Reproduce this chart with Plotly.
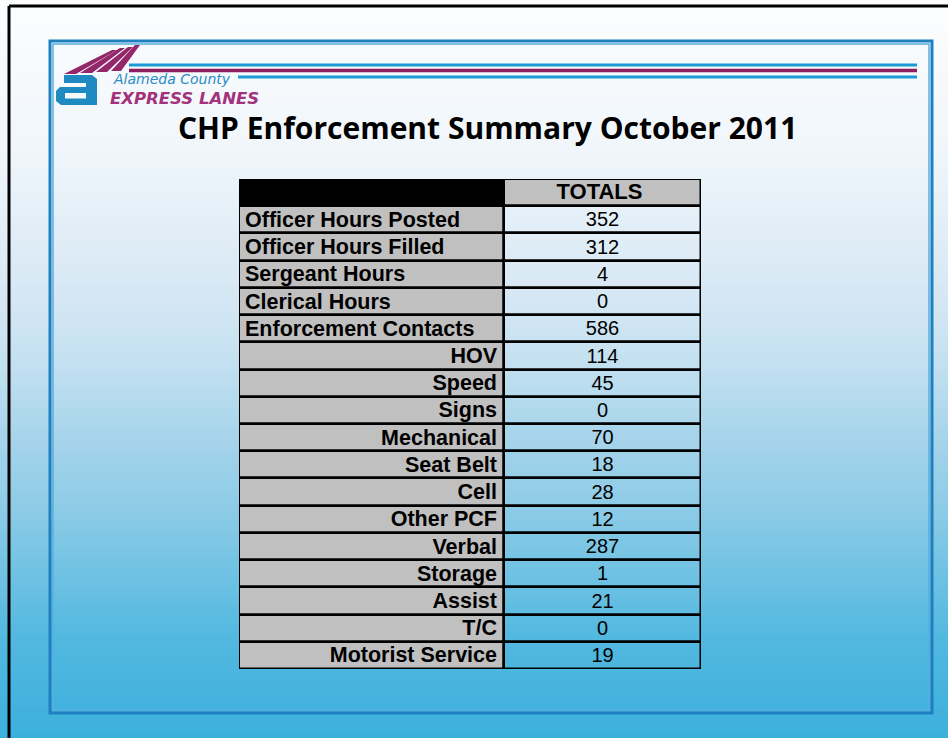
import plotly.graph_objects as go

W, H = 948, 738

title_text = "CHP Enforcement Summary October 2011"
header_labels = ["", "TOTALS"]
row_labels = ["Officer Hours Posted", "Officer Hours Filled", "Sergeant Hours",
              "Clerical Hours", "Enforcement Contacts", "HOV", "Speed", "Signs",
              "Mechanical", "Seat Belt", "Cell", "Other PCF", "Verbal", "Storage",
              "Assist", "T/C", "Motorist Service"]
totals = [352, 312, 4, 0, 586, 114, 45, 0, 70, 18, 28, 12, 287, 1, 21, 0, 19]
is_subcategory = [False] * 5 + [True] * 12


def px(x):
    return x / W


def py(y):
    return 1 - y / H


shapes = []

# slide background gradient (white -> blue)
stops = [(0, (252, 253, 254)), (150, (240, 246, 251)), (300, (213, 231, 244)),
         (360, (196, 225, 241)), (450, (162, 210, 234)), (510, (140, 203, 230)),
         (640, (82, 184, 224)), (738, (60, 176, 220))]


def grad(y):
    for (y0, c0), (y1, c1) in zip(stops[:-1], stops[1:]):
        if y0 <= y <= y1:
            t = (y - y0) / (y1 - y0)
            return "rgb(%d,%d,%d)" % tuple(round(a + (b - a) * t) for a, b in zip(c0, c1))
    return "rgb(60,176,220)"


step = 3
for y in range(0, H, step):
    shapes.append(dict(type="rect", xref="paper", yref="paper", layer="below",
                       x0=0, x1=1, y0=py(y + step + 0.5), y1=py(y),
                       fillcolor=grad(y + step / 2), line=dict(width=0)))

# outer black slide border (left & top)
shapes.append(dict(type="line", xref="paper", yref="paper", x0=px(9), x1=px(9),
                   y0=py(6), y1=py(740), line=dict(color="black", width=3)))
shapes.append(dict(type="line", xref="paper", yref="paper", x0=px(9), x1=px(950),
                   y0=py(6), y1=py(6), line=dict(color="black", width=3)))

# inner double frame
shapes.append(dict(type="rect", xref="paper", yref="paper", x0=px(50), x1=px(932),
                   y0=py(713), y1=py(41), line=dict(color="#1f80bf", width=3)))
shapes.append(dict(type="rect", xref="paper", yref="paper", x0=px(53), x1=px(929),
                   y0=py(710), y1=py(44), line=dict(color="#5aaee0", width=1.5)))

# header rule lines
shapes.append(dict(type="line", xref="paper", yref="paper", x0=px(129), x1=px(917),
                   y0=py(65), y1=py(65), line=dict(color="#1b9bd6", width=3)))
shapes.append(dict(type="line", xref="paper", yref="paper", x0=px(129), x1=px(917),
                   y0=py(70.5), y1=py(70.5), line=dict(color="#8e1f5e", width=3.5)))
shapes.append(dict(type="line", xref="paper", yref="paper", x0=px(238), x1=px(917),
                   y0=py(77), y1=py(77), line=dict(color="#1b9bd6", width=3)))


def path(points):
    return "M " + " L ".join("%f,%f" % (px(x), py(y)) for x, y in points) + " Z"


# logo: magenta swoosh stripes
magenta = "#94266a"
stripe_bases = [((64, 74), (76, 74)), ((80, 73), (92, 73)), ((96, 72), (107, 72)), ((111, 71), (121, 71))]
tips = [((112, 50), (117, 50)), ((120, 48), (125, 48)), ((128, 47), (133, 47)), ((135, 45), (140, 45))]
for (b0, b1), (t0, t1) in zip(stripe_bases, tips):
    shapes.append(dict(type="path", xref="paper", yref="paper",
                       path=path([b0, b1, t1, t0]), fillcolor=magenta, line=dict(width=0)))

# logo: teal "a"
teal = "#1f8ac2"
shapes.append(dict(type="path", xref="paper", yref="paper",
                   path=path([(64, 75), (92, 75), (97, 79), (97, 105), (61, 105), (56, 101),
                              (56, 91), (60, 87), (86, 87), (86, 83), (64, 83)]),
                   fillcolor=teal, line=dict(width=0)))
shapes.append(dict(type="rect", xref="paper", yref="paper", x0=px(65), x1=px(86),
                   y0=py(98.5), y1=py(93), fillcolor="#f6f9fc", line=dict(width=0)))

annotations = [
    dict(text="Alameda County", x=px(111), y=py(79.5), xref="paper", yref="paper",
         xanchor="left", yanchor="middle", showarrow=False,
         font=dict(family="DejaVu Sans", size=14, color="#2a8cc4", style="italic")),
    dict(text="<b>EXPRESS LANES</b>", x=px(108), y=py(98.5), xref="paper", yref="paper",
         xanchor="left", yanchor="middle", showarrow=False,
         font=dict(family="DejaVu Sans", size=16.5, color="#a3327c", style="italic")),
    dict(text="<b>" + title_text + "</b>", x=px(487), y=py(127), xref="paper", yref="paper",
         xanchor="center", yanchor="middle", showarrow=False,
         font=dict(family="Open Sans", size=30, color="black")),
]

# ---- table built from bars on hidden axes ----
col1_w, col2_w = 265, 197
n_rows = len(row_labels) + 1          # header + data rows
row_pos = list(range(n_rows))          # 0 = header row
data_pos = row_pos[1:]

fig = go.Figure()
fig.add_trace(go.Bar(
    orientation="h", y=row_pos, x=[col1_w] * n_rows, base=0,
    marker=dict(color=["black"] + ["#c0c0c0"] * len(row_labels),
                line=dict(color="black", width=2.5)),
    hoverinfo="skip",
))
fig.add_trace(go.Bar(
    orientation="h", y=row_pos, x=[col2_w] * n_rows, base=col1_w,
    marker=dict(color=["#c0c0c0"] + ["rgba(0,0,0,0)"] * len(row_labels),
                line=dict(color="black", width=2.5)),
    hoverinfo="skip",
))

label_font = dict(family="Liberation Sans", size=21.5, color="black")
main_y = [p + 0.06 for p, s in zip(data_pos, is_subcategory) if not s]
main_t = ["<b>" + l + "</b>" for l, s in zip(row_labels, is_subcategory) if not s]
sub_y = [p + 0.06 for p, s in zip(data_pos, is_subcategory) if s]
sub_t = ["<b>" + l + "</b>" for l, s in zip(row_labels, is_subcategory) if s]

fig.add_trace(go.Scatter(x=[6] * len(main_y), y=main_y, text=main_t, mode="text",
                         textposition="middle right", textfont=label_font, hoverinfo="skip"))
fig.add_trace(go.Scatter(x=[col1_w - 7] * len(sub_y), y=sub_y, text=sub_t, mode="text",
                         textposition="middle left", textfont=label_font, hoverinfo="skip"))
fig.add_trace(go.Scatter(x=[col1_w + col2_w / 2] * len(totals), y=[p + 0.06 for p in data_pos],
                         text=[str(v) for v in totals], mode="text",
                         textposition="middle center",
                         textfont=dict(family="Liberation Sans", size=20, color="black"),
                         hoverinfo="skip"))
fig.add_trace(go.Scatter(x=[col1_w / 2, col1_w + col2_w / 2 - 3], y=[0.04, 0.04],
                         text=["<b>" + h + "</b>" for h in header_labels], mode="text",
                         textposition="middle center",
                         textfont=dict(family="Liberation Sans", size=22, color="black"),
                         hoverinfo="skip"))

fig.update_layout(
    width=W, height=H,
    margin=dict(l=0, r=0, t=0, b=0),
    paper_bgcolor="#3cb0dc",
    plot_bgcolor="rgba(0,0,0,0)",
    barmode="overlay", bargap=0,
    xaxis=dict(domain=[px(239), px(701)], range=[0, col1_w + col2_w], visible=False,
               fixedrange=True),
    yaxis=dict(domain=[py(669), py(179)], range=[n_rows - 0.5, -0.5], visible=False,
               fixedrange=True),
    shapes=shapes,
    annotations=annotations,
    showlegend=False,
)
fig.write_html("out.html", config=dict(displayModeBar=False),
               post_script="document.body.style.margin='0';")
